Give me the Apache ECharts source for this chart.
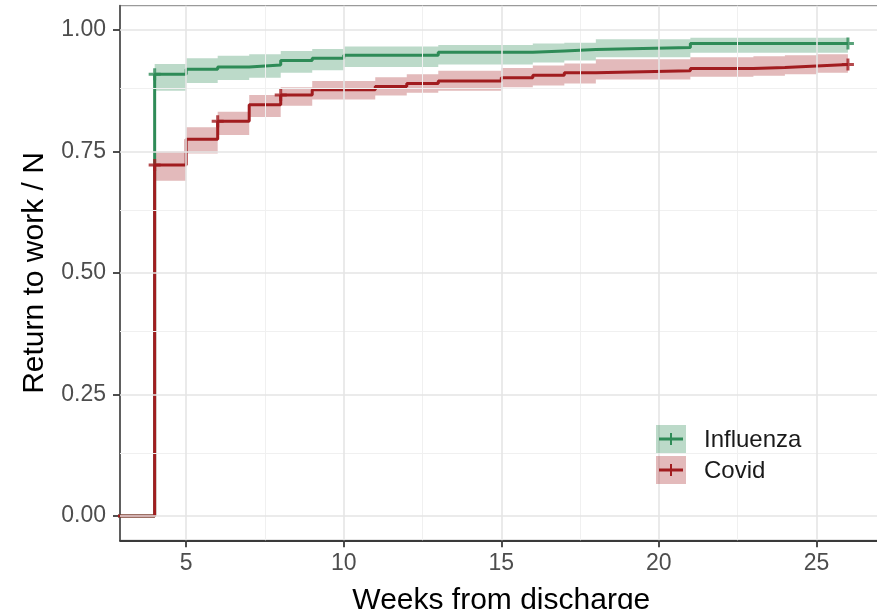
<!DOCTYPE html>
<html>
<head>
<meta charset="utf-8">
<script src="https://cdn.jsdelivr.net/npm/echarts@6/dist/echarts.min.js"></script>
<style>
html,body{margin:0;padding:0;background:#fff;}
#chart{width:877px;height:609px;}
</style>
</head>
<body>
<div id="chart"></div>
<script>
// ---- data ----
const weeksInfluenza = [0, 4, 5, 6, 7, 8, 9, 10, 13, 16, 17, 18, 21, 26];
const influenza      = [0, 0.909, 0.919, 0.924, 0.928, 0.937, 0.942, 0.948, 0.954, 0.957, 0.960, 0.964, 0.972, 0.972];
const influenzaUpper = [null, 0.930, 0.942, 0.947, 0.950, 0.957, 0.961, 0.966, 0.969, 0.972, 0.974, 0.981, 0.984, 0.984];
const influenzaLower = [null, 0.875, 0.891, 0.897, 0.902, 0.912, 0.917, 0.924, 0.929, 0.933, 0.937, 0.944, 0.953, 0.953];
const influenzaCensor = [4, 26];

const weeksCovid = [0, 4, 5, 6, 7, 8, 9, 11, 12, 13, 15, 16, 17, 18, 21, 23, 24, 25, 26];
const covid      = [0, 0.722, 0.775, 0.812, 0.846, 0.866, 0.877, 0.884, 0.890, 0.895, 0.902, 0.907, 0.912, 0.916, 0.921, 0.923, 0.926, 0.929, 0.929];
const covidUpper = [null, 0.750, 0.800, 0.832, 0.866, 0.882, 0.895, 0.903, 0.909, 0.916, 0.922, 0.927, 0.931, 0.940, 0.944, 0.946, 0.948, 0.950, 0.950];
const covidLower = [null, 0.690, 0.746, 0.784, 0.821, 0.844, 0.857, 0.865, 0.871, 0.875, 0.882, 0.886, 0.890, 0.898, 0.904, 0.906, 0.909, 0.912, 0.912];
const covidCensor = [4, 6, 8, 26];

const xTicks = [5, 10, 15, 20, 25];
const xMinor = [7.5, 12.5, 17.5, 22.5];
const yTicks = [0, 0.25, 0.5, 0.75, 1];
const yMinor = [0.125, 0.375, 0.625, 0.875];

// ---- styling ----
const GREEN = '#2e8b57', GREEN_BAND = 'rgba(46,139,87,0.32)';
const RED = '#a11c1f', RED_BAND = 'rgba(161,28,31,0.30)';
const FONT = '"Liberation Sans", Arial, sans-serif';

function pairs(xs, ys) { return xs.map((x, i) => [x, ys[i]]); }
// band rows: [week, lower, upper] (only where a band exists)
function bandRows(xs, lo, hi) {
  return xs.map((x, i) => [x, lo[i], hi[i]]).filter(r => r[1] !== null && r[2] !== null);
}
function censorPts(xs, ys, cs) { return cs.map(c => [c, ys[xs.indexOf(c)]]); }

// draws the whole step-shaped ribbon as one polygon, positioned by the axes
function bandRender(rows, color) {
  return function (params, api) {
    if (params.dataIndex !== 0) return null;
    const pts = [];
    for (let i = 0; i < rows.length - 1; i++) {
      pts.push(api.coord([rows[i][0], rows[i][2]]));
      pts.push(api.coord([rows[i + 1][0], rows[i][2]]));
    }
    for (let i = rows.length - 2; i >= 0; i--) {
      pts.push(api.coord([rows[i + 1][0], rows[i][1]]));
      pts.push(api.coord([rows[i][0], rows[i][1]]));
    }
    return { type: 'polygon', shape: { points: pts }, style: { fill: color } };
  };
}

const plusPath = 'path://M4.5,0h3v4.5h4.5v3h-4.5v4.5h-3v-4.5h-4.5v-3h4.5z';

const infBand = bandRows(weeksInfluenza, influenzaLower, influenzaUpper);
const covBand = bandRows(weeksCovid, covidLower, covidUpper);

const chart = echarts.init(document.getElementById('chart'));
chart.setOption({
  animation: false,
  backgroundColor: '#fff',
  grid: { left: 120, top: 5.7, width: 762.6, height: 534.6, outerBoundsMode: 'none', containLabel: false,
          show: true, borderColor: '#9a9a9a', borderWidth: 1.2, backgroundColor: 'transparent' },
  xAxis: {
    type: 'value', min: 2.9, max: 27.1,
    name: 'Weeks from discharge', nameLocation: 'middle', nameGap: 45,
    nameTextStyle: { fontFamily: FONT, fontSize: 30, color: '#000' },
    axisLine: { show: true, onZero: false, lineStyle: { color: '#3a3a3a', width: 1.8 } },
    axisTick: { show: true, length: 7, customValues: xTicks, lineStyle: { color: '#3a3a3a', width: 1.8 } },
    axisLabel: { customValues: xTicks, margin: 12, fontFamily: FONT, fontSize: 23, color: '#4d4d4d' },
    splitLine: { show: false }
  },
  yAxis: {
    type: 'value', min: -0.05, max: 1.05,
    name: 'Return to work / N', nameLocation: 'middle', nameGap: 70, nameRotate: 90,
    nameTextStyle: { fontFamily: FONT, fontSize: 30, color: '#000' },
    axisLine: { show: true, onZero: false, lineStyle: { color: '#555', width: 1.8 } },
    axisTick: { show: true, length: 7, customValues: yTicks, lineStyle: { color: '#3a3a3a', width: 1.8 } },
    axisLabel: { customValues: yTicks, margin: 14, fontFamily: FONT, fontSize: 23, color: '#4d4d4d', formatter: v => v.toFixed(2) },
    splitLine: { show: false }
  },
  series: [
    { type: 'line', name: 'minorGrid', data: [], z: 0, silent: true,
      markLine: { silent: true, symbol: 'none', label: { show: false }, lineStyle: { color: '#f0f0f0', width: 1, type: 'solid' },
        data: xMinor.map(v => ({ xAxis: v })).concat(yMinor.map(v => ({ yAxis: v }))) } },
    { type: 'line', name: 'majorGrid', data: [], z: 0, silent: true,
      markLine: { silent: true, symbol: 'none', label: { show: false }, lineStyle: { color: '#e5e5e5', width: 1.6, type: 'solid' },
        data: xTicks.map(v => ({ xAxis: v })).concat(yTicks.map(v => ({ yAxis: v }))) } },
    { type: 'custom', name: 'InfluenzaBand', z: 2, silent: true, clip: true, renderItem: bandRender(infBand, GREEN_BAND),
      encode: { x: 0, y: [1, 2] }, data: infBand },
    { type: 'custom', name: 'CovidBand', z: 2, silent: true, clip: true, renderItem: bandRender(covBand, RED_BAND),
      encode: { x: 0, y: [1, 2] }, data: covBand },
    { type: 'line', name: 'Influenza', step: 'end', symbol: 'none', z: 3, lineStyle: { color: GREEN, width: 3 },
      data: pairs(weeksInfluenza, influenza) },
    { type: 'line', name: 'Covid', step: 'end', symbol: 'none', z: 4, lineStyle: { color: RED, width: 3 },
      data: pairs(weeksCovid, covid) },
    { type: 'scatter', name: 'InfluenzaCensor', symbol: plusPath, symbolSize: 12, z: 5, itemStyle: { color: GREEN },
      data: censorPts(weeksInfluenza, influenza, influenzaCensor) },
    { type: 'scatter', name: 'CovidCensor', symbol: plusPath, symbolSize: 12, z: 5, itemStyle: { color: RED },
      data: censorPts(weeksCovid, covid, covidCensor) }
  ],
  graphic: [
    { type: 'rect', shape: { x: 656, y: 425, width: 30, height: 28 }, style: { fill: GREEN_BAND }, z: 10 },
    { type: 'line', shape: { x1: 659, y1: 439, x2: 683, y2: 439 }, style: { stroke: GREEN, lineWidth: 3 }, z: 11 },
    { type: 'line', shape: { x1: 671, y1: 433, x2: 671, y2: 445 }, style: { stroke: GREEN, lineWidth: 2 }, z: 11 },
    { type: 'text', x: 704, y: 440, style: { text: 'Influenza', fontFamily: FONT, fontSize: 24, fill: '#1a1a1a', verticalAlign: 'middle', align: 'left' }, z: 11 },
    { type: 'rect', shape: { x: 656, y: 456, width: 30, height: 28 }, style: { fill: RED_BAND }, z: 10 },
    { type: 'line', shape: { x1: 659, y1: 470, x2: 683, y2: 470 }, style: { stroke: RED, lineWidth: 3 }, z: 11 },
    { type: 'line', shape: { x1: 671, y1: 464, x2: 671, y2: 476 }, style: { stroke: RED, lineWidth: 2 }, z: 11 },
    { type: 'text', x: 704, y: 471, style: { text: 'Covid', fontFamily: FONT, fontSize: 24, fill: '#1a1a1a', verticalAlign: 'middle', align: 'left' }, z: 11 }
  ]
});
</script>
</body>
</html>
